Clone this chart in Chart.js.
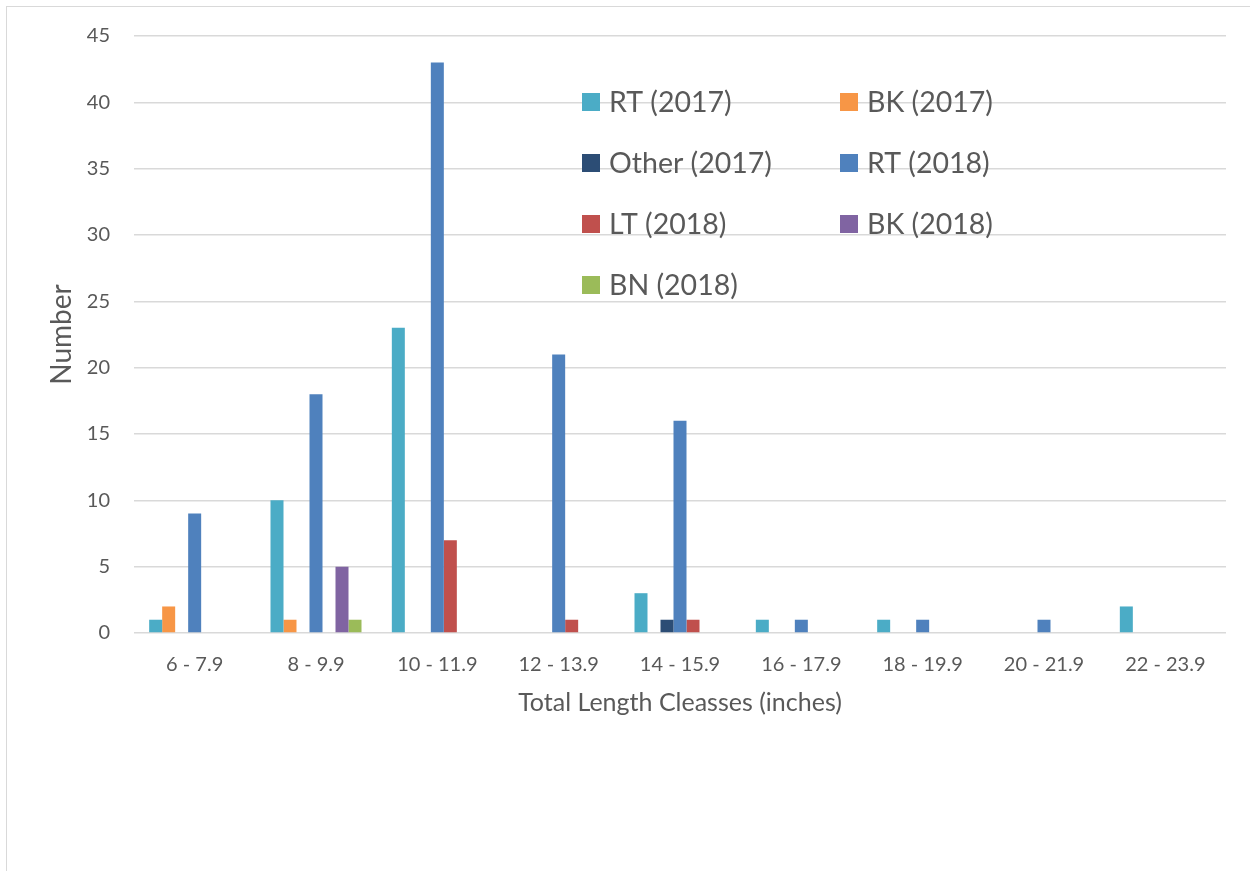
<!DOCTYPE html>
<html>
<head>
<meta charset="utf-8">
<script src="https://cdn.jsdelivr.net/npm/chart.js@4.4.0/dist/chart.umd.min.js"></script>
<style>
  html, body { margin: 0; padding: 0; background: #fff; }
  #frame {
    position: absolute; left: 6px; top: 6px; width: 1260px; height: 880px;
    border: 1px solid #d9d9d9; box-sizing: border-box;
  }
  #wrap { position: absolute; left: 0; top: 0; width: 1250px; height: 871px; }
</style>
</head>
<body>
<div id="frame"></div>
<div id="wrap"><canvas id="chart" width="1250" height="871"></canvas></div>
<script>
const categories = ["6 - 7.9", "8 - 9.9", "10 - 11.9", "12 - 13.9", "14 - 15.9",
                    "16 - 17.9", "18 - 19.9", "20 - 21.9", "22 - 23.9"];

const rt2017    = [1, 10, 23, 0, 3, 1, 1, 0, 2];
const bk2017    = [2, 1, 0, 0, 0, 0, 0, 0, 0];
const other2017 = [0, 0, 0, 0, 1, 0, 0, 0, 0];
const rt2018    = [9, 18, 43, 21, 16, 1, 1, 1, 0];
const lt2018    = [0, 0, 7, 1, 1, 0, 0, 0, 0];
const bk2018    = [0, 5, 0, 0, 0, 0, 0, 0, 0];
const bn2018    = [0, 1, 0, 0, 0, 0, 0, 0, 0];

const seriesNames = ["RT (2017)", "BK (2017)", "Other (2017)", "RT (2018)",
                     "LT (2018)", "BK (2018)", "BN (2018)"];
const seriesColors = ["#4BACC6", "#F79646", "#2C4D75", "#4F81BD",
                      "#C0504D", "#8064A2", "#9BBB59"];
const seriesValues = [rt2017, bk2017, other2017, rt2018, lt2018, bk2018, bn2018];

const FONT = "Lato, 'Noto Sans', sans-serif";
const TEXT = "#595959";

// legend drawn inside the plot area in two columns, like the Excel original
const insideLegend = {
  id: "insideLegend",
  afterDraw(chart) {
    const { ctx, chartArea } = chart;
    const colX = [chartArea.left + 448, chartArea.left + 706];
    const rowY0 = chartArea.top + 66, rowGap = 61;
    ctx.save();
    ctx.font = "28.5px " + FONT;
    ctx.textBaseline = "middle";
    ctx.textAlign = "left";
    chart.data.datasets.forEach((ds, i) => {
      const x = colX[i % 2];
      const y = rowY0 + Math.floor(i / 2) * rowGap;
      ctx.fillStyle = ds.backgroundColor;
      ctx.fillRect(x, y - 9, 18, 18);
      ctx.fillStyle = TEXT;
      ctx.fillText(ds.label, x + 27, y + 1);
    });
    ctx.restore();
  }
};

new Chart(document.getElementById("chart"), {
  type: "bar",
  data: {
    labels: categories,
    datasets: seriesNames.map((name, i) => ({
      label: name,
      data: seriesValues[i],
      backgroundColor: seriesColors[i],
      borderWidth: 0
    }))
  },
  options: {
    responsive: false,
    animation: false,
    categoryPercentage: 0.75,
    barPercentage: 1,
    layout: { padding: { left: 0, right: 24, top: 36, bottom: 148 } },
    plugins: {
      legend: { display: false },
      tooltip: { enabled: false }
    },
    scales: {
      x: {
        grid: { display: false },
        border: { display: false },
        ticks: { color: TEXT, font: { family: FONT, size: 20 }, padding: 12, maxRotation: 0 },
        title: {
          display: true,
          text: "Total Length Cleasses (inches)",
          color: TEXT,
          font: { family: FONT, size: 25 },
          padding: { top: 0, bottom: 5 }
        },
        afterFit(scale) { scale.height = 90; }
      },
      y: {
        min: 0,
        max: 45,
        ticks: { stepSize: 5, color: TEXT, font: { family: FONT, size: 20 }, padding: 24 },
        grid: { color: "#d9d9d9", lineWidth: 1.5, drawTicks: false },
        border: { display: false },
        title: {
          display: true,
          text: "Number",
          color: TEXT,
          font: { family: FONT, size: 28 },
          padding: { top: 45, bottom: 0 }
        },
        afterFit(scale) { scale.width = 134; }
      }
    }
  },
  plugins: [insideLegend]
});
</script>
</body>
</html>
